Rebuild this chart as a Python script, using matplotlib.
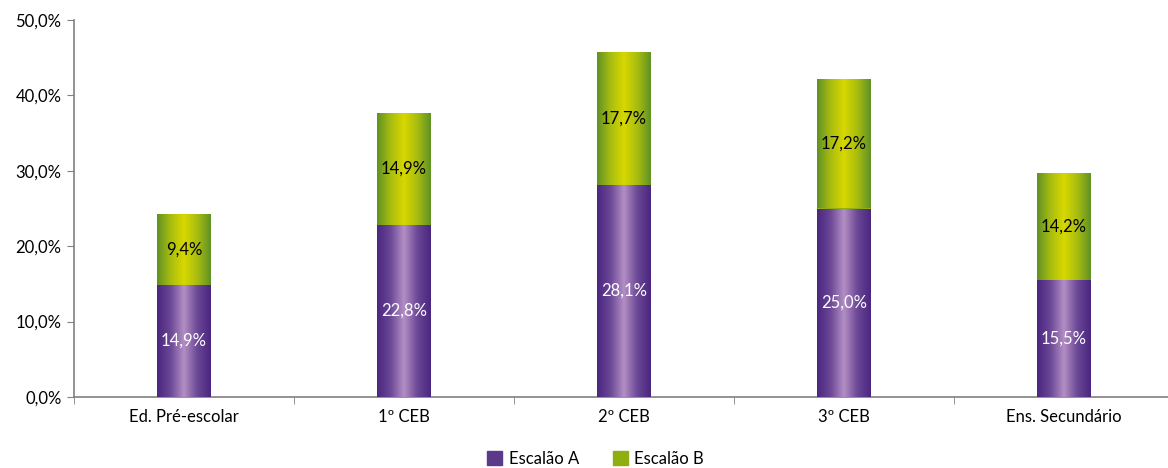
import matplotlib
matplotlib.use("Agg")
import matplotlib.pyplot as plt
import numpy as np
from matplotlib.colors import LinearSegmentedColormap
from matplotlib.patches import Patch

plt.rcParams['font.family'] = ['Lato', 'DejaVu Sans']

categories = ["Ed. Pré-escolar", "1º CEB", "2º CEB", "3º CEB", "Ens. Secundário"]
escalao_a = [14.9, 22.8, 28.1, 25.0, 15.5]
escalao_b = [9.4, 14.9, 17.7, 17.2, 14.2]
yticks = [0, 10, 20, 30, 40, 50]

fig = plt.figure(figsize=(11.68, 4.68), dpi=100)
ax = fig.add_axes([74 / 1168, 71 / 468, 1100 / 1168, 377 / 468])

x = np.arange(len(categories))
w = 0.245
cmap_a = LinearSegmentedColormap.from_list("a", ["#4a2680", "#6b4796", "#b38fc4", "#6b4796", "#4a2680"])
cmap_b = LinearSegmentedColormap.from_list("b", ["#5f9125", "#a8bd10", "#d8d800", "#a8bd10", "#5f9125"])
grad = np.linspace(0, 1, 256).reshape(1, -1)

bars_a = ax.bar(x, escalao_a, w, color="#5b3a8c", zorder=2)
bars_b = ax.bar(x, escalao_b, w, bottom=escalao_a, color="#8db010", zorder=2)

for bars, cmap in ((bars_a, cmap_a), (bars_b, cmap_b)):
    for b in bars:
        x0, y0 = b.get_x(), b.get_y()
        im = ax.imshow(grad, cmap=cmap, aspect='auto',
                       extent=[x0, x0 + b.get_width(), y0, y0 + b.get_height()],
                       zorder=3, interpolation='bilinear')
        im.set_clip_path(b)

for i in range(len(categories)):
    ax.text(x[i], escalao_a[i] / 2, f"{escalao_a[i]:.1f}%".replace('.', ','),
            ha='center', va='center', color='white', fontsize=12, zorder=4)
    ax.text(x[i], escalao_a[i] + escalao_b[i] / 2, f"{escalao_b[i]:.1f}%".replace('.', ','),
            ha='center', va='center', color='black', fontsize=12, zorder=4)

ax.set_xlim(-0.5, len(categories) - 0.5)
ax.set_ylim(0, 50)
ax.set_yticks(yticks)
ax.set_yticklabels([f"{v:.1f}%".replace('.', ',') for v in yticks], fontsize=12)
ax.set_xticks(x)
ax.set_xticklabels(categories, fontsize=12)
ax.tick_params(axis='x', length=0, pad=9)
ax.tick_params(axis='y', length=5, color='#808080', pad=4)
ax.set_xticks(np.arange(-0.5, len(categories), 1.0), minor=True)
ax.tick_params(axis='x', which='minor', length=5, color='#808080')
for s in ['top', 'right']:
    ax.spines[s].set_visible(False)
for s in ['left', 'bottom']:
    ax.spines[s].set_color('#808080')
    ax.spines[s].set_linewidth(1.2)

handles = [Patch(color="#5b3a8c", label="Escalão A"), Patch(color="#8db010", label="Escalão B")]
fig.legend(handles=handles, loc='lower center', bbox_to_anchor=(0.51, -0.03), ncol=2,
           frameon=False, fontsize=12, handlelength=0.9, handleheight=0.9,
           columnspacing=2.0, handletextpad=0.4)

fig.savefig("out.png", dpi=100)
